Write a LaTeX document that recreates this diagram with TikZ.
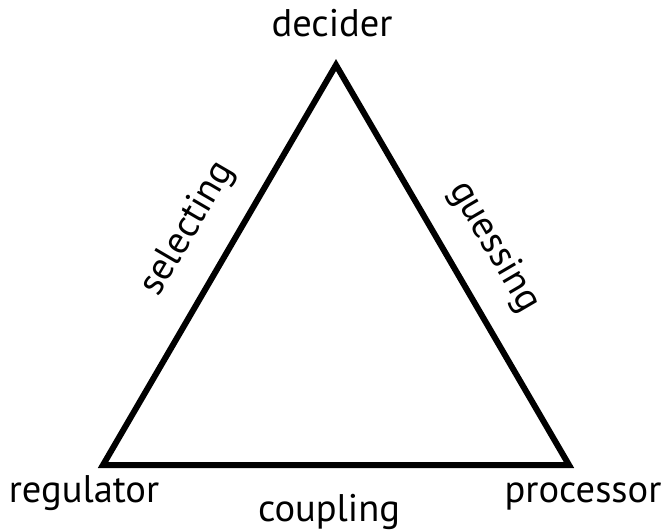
\documentclass[tikz,border=0pt]{standalone}
\usepackage{fontspec}
\setmainfont{PT Sans}
\begin{document}
\begin{tikzpicture}[x=1pt,y=1pt,
  edge/.style={line width=6pt,line join=miter,miter limit=20},
  lbl/.style={font=\fontsize{38.5}{42}\selectfont,inner sep=0pt}]
\useasboundingbox (0,0) rectangle (664,531);
\coordinate (D) at (336,466);
\coordinate (R) at (103,66);
\coordinate (P) at (569,66);
\draw[edge] (D) -- (R) -- (P) -- cycle;
\node[lbl,anchor=base] (decider) at (332,494) {decider};
\node[lbl,anchor=base] (regulator) at (84,29) {regulator};
\node[lbl,anchor=base] (coupling) at (329,10) {coupling};
\node[lbl,anchor=base] (processor) at (583,29) {processor};
\node[lbl,rotate=59.7] (selecting) at (188,302) {selecting};
\node[lbl,rotate=-59.7] (guessing) at (494,284) {guessing};
\end{tikzpicture}
\end{document}
